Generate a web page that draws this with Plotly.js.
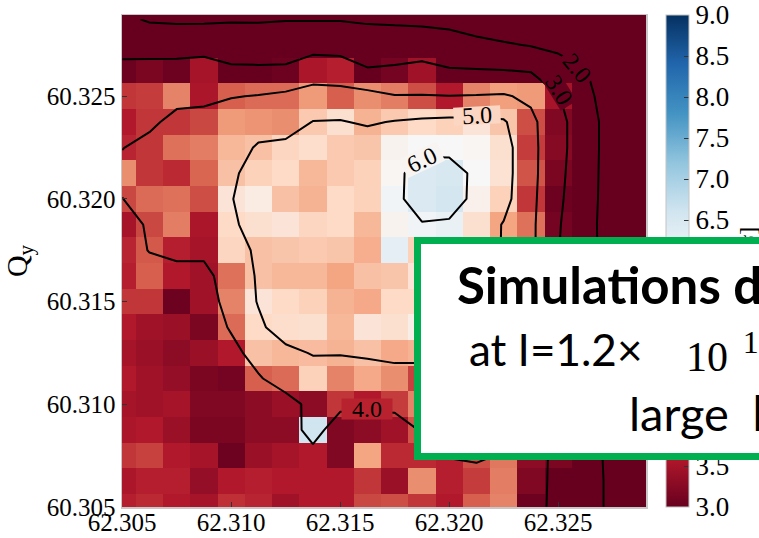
<!DOCTYPE html>
<html>
<head>
<meta charset="utf-8">
<script src="https://cdn.plot.ly/plotly-3.0.1.min.js"></script>
<style>
  html, body { margin: 0; padding: 0; background: #ffffff; }
  #chart { width: 759px; height: 538px; }
</style>
</head>
<body>
<div id="chart"></div>
<script>
// Tune grid (cell centres)
const tuneQx = [62.305, 62.30625, 62.3075, 62.30875, 62.31, 62.31125, 62.3125, 62.31375, 62.315, 62.31625,
                62.3175, 62.31875, 62.32, 62.32125, 62.3225, 62.32375, 62.325, 62.32625, 62.3275, 62.32875];
const tuneQy = [60.305, 60.30625, 60.3075, 60.30875, 60.31, 60.31125, 60.3125, 60.31375, 60.315, 60.31625,
                60.3175, 60.31875, 60.32, 60.32125, 60.3225, 60.32375, 60.325, 60.32625, 60.3275, 60.32875];

// Dynamic aperture per tune cell (rows from Qy = 60.305 upwards)
const daCells = [
  [3.65, 3.75, 3.6, 3.5, 3.8, 3.7, 3.45, 3.6, 3.6, 4.0, 4.05, 3.85, 3.6, 4.2, 4.5, 3.05, 2.85, 2.5, 1.75, 1.0],
  [3.55, 3.65, 3.65, 3.35, 3.6, 3.65, 3.6, 3.6, 3.6, 3.85, 3.4, 4.6, 3.65, 3.9, 4.45, 3.2, 2.9, 2.5, 1.75, 1.0],
  [3.85, 3.95, 3.6, 3.5, 3.05, 3.4, 3.5, 3.6, 3.2, 4.8, 3.75, 3.75, 3.65, 4.05, 4.4, 3.3, 3.15, 2.5, 1.7, 1.0],
  [3.55, 3.6, 3.4, 3.15, 3.15, 3.3, 3.3, 6.6, 3.2, 3.3, 3.45, 4.1, 4.3, 4.4, 4.3, 4.1, 2.85, 2.5, 1.65, 1.0],
  [3.5, 3.45, 3.5, 3.2, 3.2, 3.3, 3.4, 3.3, 3.85, 3.6, 3.9, 4.5, 4.5, 4.5, 4.4, 4.1, 2.85, 2.5, 1.6, 1.0],
  [3.6, 3.45, 3.35, 3.15, 3.1, 4.2, 4.3, 5.3, 4.5, 4.85, 4.6, 3.95, 4.75, 4.6, 4.5, 4.15, 2.85, 2.5, 1.55, 1.0],
  [3.5, 3.4, 3.3, 3.4, 3.6, 5.1, 5.0, 5.05, 4.95, 5.1, 4.85, 4.95, 5.2, 5.05, 4.6, 4.15, 2.9, 2.5, 1.5, 1.0],
  [3.6, 3.45, 3.4, 3.15, 4.3, 5.4, 5.45, 5.5, 5.0, 5.6, 5.5, 5.8, 5.3, 5.15, 4.7, 4.15, 2.9, 2.5, 1.5, 1.0],
  [3.85, 3.85, 3.05, 3.45, 4.5, 5.6, 5.4, 5.3, 4.95, 4.85, 5.4, 5.4, 5.4, 5.2, 4.8, 4.2, 2.95, 2.5, 1.4, 1.0],
  [3.65, 4.2, 3.6, 3.45, 4.35, 5.1, 5.0, 5.0, 4.8, 5.1, 5.15, 5.6, 5.5, 5.3, 4.9, 4.2, 2.95, 2.5, 1.35, 1.0],
  [3.7, 4.15, 3.65, 3.5, 5.35, 5.1, 5.15, 5.2, 5.15, 4.9, 6.3, 5.3, 5.6, 5.4, 4.95, 4.0, 3.0, 2.55, 1.3, 1.0],
  [3.5, 4.0, 4.45, 3.55, 5.4, 5.5, 5.6, 5.35, 5.4, 5.0, 5.9, 6.1, 6.2, 5.5, 4.8, 4.35, 3.1, 2.55, 1.25, 1.0],
  [4.0, 4.3, 4.35, 4.05, 5.6, 5.75, 5.1, 4.95, 5.4, 5.3, 6.1, 6.45, 6.55, 5.85, 5.3, 3.85, 3.05, 2.6, 1.3, 1.0],
  [4.6, 3.85, 3.75, 4.25, 5.1, 5.3, 5.4, 5.0, 5.2, 5.3, 5.95, 6.45, 6.5, 6.0, 5.55, 4.1, 3.15, 2.6, 1.35, 1.05],
  [3.7, 3.85, 4.35, 4.45, 5.0, 5.1, 5.35, 5.45, 5.2, 5.15, 5.9, 6.0, 6.0, 5.95, 5.5, 3.9, 3.25, 2.6, 1.4, 1.1],
  [3.6, 3.85, 3.85, 4.0, 4.7, 4.65, 4.6, 5.2, 5.5, 4.95, 5.2, 5.4, 5.3, 5.6, 5.15, 4.05, 3.2, 2.6, 1.4, 1.15],
  [3.85, 3.9, 4.5, 3.55, 4.2, 4.3, 4.3, 4.7, 4.2, 4.6, 4.45, 4.05, 3.6, 4.5, 4.75, 4.7, 3.5, 2.3, 1.4, 1.2],
  [3.05, 3.15, 3.05, 3.5, 2.95, 2.95, 3.05, 3.55, 3.65, 3.0, 3.1, 3.45, 2.95, 2.95, 2.95, 2.9, 2.4, 2.05, 1.3, 1.1],
  [2.75, 2.7, 2.65, 2.7, 2.7, 2.65, 2.7, 2.75, 2.7, 2.65, 2.65, 2.65, 2.6, 2.3, 2.1, 1.95, 1.8, 1.5, 1.1, 1.0],
  [2.2, 1.9, 1.85, 1.85, 1.9, 1.9, 1.95, 1.95, 1.95, 1.85, 1.8, 1.75, 1.6, 1.4, 1.3, 1.2, 1.1, 1.0, 1.0, 1.0]
];

// Averaged dynamic aperture used for the iso-lines
const daLevels = [
  [3.65, 3.75, 3.6, 3.5, 3.8, 3.7, 3.45, 3.6, 3.6, 3.8, 3.8, 3.7, 3.6, 3.7, 3.7, 3.2, 2.85, 2.5, 1.75, 1.0],
  [3.55, 3.65, 3.65, 3.35, 3.6, 3.65, 3.6, 3.6, 3.6, 3.8, 3.4, 3.7, 3.6, 3.5, 3.6, 3.3, 2.8, 2.5, 1.75, 1.0],
  [3.85, 3.9, 3.6, 3.5, 3.1, 3.4, 3.5, 3.6, 3.3, 3.7, 3.7, 3.6, 4.05, 4.2, 3.9, 3.5, 2.7, 2.5, 1.7, 1.0],
  [3.55, 3.6, 3.4, 3.2, 3.2, 3.3, 3.3, 4.5, 3.3, 3.3, 3.4, 4.1, 4.3, 4.4, 4.3, 4.1, 2.85, 2.5, 1.65, 1.0],
  [3.5, 3.45, 3.5, 3.2, 3.2, 3.3, 3.6, 4.3, 4.3, 4.3, 4.3, 4.5, 4.5, 4.5, 4.4, 4.1, 2.85, 2.5, 1.6, 1.0],
  [3.6, 3.45, 3.35, 3.15, 3.1, 3.9, 4.5, 4.6, 4.5, 4.5, 4.7, 4.7, 4.75, 4.6, 4.5, 4.15, 2.85, 2.5, 1.55, 1.0],
  [3.5, 3.4, 3.3, 3.4, 3.7, 4.4, 4.8, 5.05, 5.05, 5.15, 5.2, 5.2, 5.2, 5.05, 4.6, 4.15, 2.9, 2.5, 1.5, 1.0],
  [3.6, 3.5, 3.4, 3.4, 4.1, 4.85, 5.4, 5.5, 5.5, 5.5, 5.4, 5.3, 5.3, 5.15, 4.7, 4.15, 2.9, 2.5, 1.5, 1.0],
  [3.7, 3.8, 3.3, 3.5, 4.4, 5.05, 5.5, 5.6, 5.5, 5.4, 5.6, 5.4, 5.4, 5.2, 4.8, 4.2, 2.95, 2.5, 1.4, 1.0],
  [3.6, 3.5, 3.6, 3.6, 4.7, 5.05, 5.6, 5.4, 5.5, 5.4, 5.5, 5.5, 5.5, 5.3, 4.9, 4.2, 2.95, 2.5, 1.35, 1.0],
  [3.4, 4.05, 4.3, 4.3, 4.5, 5.2, 5.4, 5.5, 5.5, 5.6, 5.6, 5.7, 5.6, 5.4, 4.95, 4.2, 3.02, 2.55, 1.3, 1.0],
  [3.5, 4.15, 4.4, 4.5, 4.8, 5.5, 5.6, 5.7, 5.5, 5.6, 5.6, 5.95, 5.9, 5.5, 4.95, 4.2, 3.05, 2.55, 1.25, 1.0],
  [3.98, 4.5, 4.3, 4.6, 4.95, 5.6, 5.7, 5.4, 5.5, 5.7, 5.8, 6.4, 6.35, 5.8, 5.3, 4.25, 3.1, 2.6, 1.3, 1.0],
  [4.3, 4.4, 4.4, 4.5, 4.8, 5.5, 5.6, 5.4, 5.5, 5.6, 5.8, 6.35, 6.4, 5.8, 5.35, 4.3, 3.15, 2.6, 1.35, 1.05],
  [3.97, 4.3, 4.5, 4.5, 4.6, 5.1, 5.2, 5.4, 5.6, 5.5, 5.7, 5.8, 5.75, 5.6, 5.35, 4.3, 3.2, 2.6, 1.4, 1.1],
  [3.6, 3.8, 4.3, 4.6, 4.6, 4.6, 4.6, 5.02, 5.05, 4.9, 5.05, 5.15, 5.2, 5.2, 5.1, 4.25, 3.2, 2.6, 1.4, 1.15],
  [3.7, 3.6, 3.7, 3.6, 3.95, 4.05, 4.2, 4.5, 4.4, 4.3, 4.05, 4.05, 4.02, 4.05, 4.1, 3.8, 3.05, 2.3, 1.4, 1.2],
  [3.2, 3.25, 3.3, 3.35, 3.1, 3.1, 3.1, 3.4, 3.4, 3.05, 3.1, 3.2, 3.05, 3.05, 3.02, 2.95, 2.4, 2.05, 1.3, 1.1],
  [2.75, 2.7, 2.65, 2.7, 2.7, 2.65, 2.7, 2.75, 2.7, 2.65, 2.65, 2.65, 2.6, 2.3, 2.1, 1.95, 1.8, 1.5, 1.1, 1.0],
  [2.2, 1.9, 1.85, 1.85, 1.9, 1.9, 1.95, 1.95, 1.95, 1.85, 1.8, 1.75, 1.6, 1.4, 1.3, 1.2, 1.1, 1.0, 1.0, 1.0]
];

const isoStart = 2, isoEnd = 6, isoStep = 1;
const qxTicks = [62.305, 62.31, 62.315, 62.32, 62.325];
const qxTickText = ['62.305', '62.310', '62.315', '62.320', '62.325'];
const qyTicks = [60.305, 60.31, 60.315, 60.32, 60.325];
const qyTickText = ['60.305', '60.310', '60.315', '60.320', '60.325'];
const cbTicks = [3.0, 3.5, 4.0, 4.5, 5.0, 5.5, 6.0, 6.5, 7.0, 7.5, 8.0, 8.5, 9.0];
const cbTickText = ['3.0', '3.5', '4.0', '4.5', '5.0', '5.5', '6.0', '6.5', '7.0', '7.5', '8.0', '8.5', '9.0'];

// Red-white-blue diverging map
const rdBu = [
  [0.0, '#67001f'], [0.1, '#b2182b'], [0.2, '#d6604d'], [0.3, '#f4a582'], [0.4, '#fddbc7'],
  [0.5, '#f7f7f7'], [0.6, '#d1e5f0'], [0.7, '#92c5de'], [0.8, '#4393c3'], [0.9, '#2166ac'], [1.0, '#053061']
];

const serif = 'Liberation Serif, Times New Roman, serif';
const sans = 'Lato, Open Sans, sans-serif';

const heat = {
  type: 'heatmap',
  x: tuneQx, y: tuneQy, z: daCells,
  zmin: 3, zmax: 9, zsmooth: false,
  colorscale: rdBu,
  hoverinfo: 'skip',
  colorbar: {
    x: 1.038, xanchor: 'left', xpad: 0,
    y: 0.5, yanchor: 'middle', ypad: 0,
    len: 1, lenmode: 'fraction', thickness: 23,
    outlinewidth: 1, outlinecolor: '#c4c4c4',
    tickmode: 'array', tickvals: cbTicks, ticktext: cbTickText,
    ticks: 'inside', ticklen: 5, tickcolor: '#333333',
    tickfont: { family: serif, size: 27, color: '#000000' }
  }
};

const iso = {
  type: 'contour',
  x: tuneQx, y: tuneQy, z: daLevels,
  showscale: false, hoverinfo: 'skip',
  contours: { coloring: 'none', start: isoStart, end: isoEnd, size: isoStep, showlabels: false },
  line: { color: '#000000', width: 2, smoothing: 0 }
};

const W = 524, H = 492, L = 122, T = 15;
const px = v => (v - L) / W;
const py = v => (T + H - v) / H;

// level labels, each sitting in a gap cut into its own line
function levelLabel(level, cx, cy, angle, gap, w, h) {
  return {
    xref: 'paper', yref: 'paper', x: px(cx), y: py(cy), xanchor: 'center', yanchor: 'middle',
    text: level.toFixed(1), textangle: angle, showarrow: false,
    bgcolor: gap, borderpad: 0, width: w, height: h,
    font: { family: serif, size: 24, color: '#000000' }
  };
}

const layout = {
  width: 759, height: 538,
  margin: { l: 122, r: 113, t: 15, b: 31 },
  paper_bgcolor: '#ffffff', plot_bgcolor: '#ffffff',
  font: { family: serif, color: '#000000' },
  showlegend: false,
  xaxis: {
    range: [62.30499, 62.32903], tickmode: 'array', tickvals: qxTicks, ticktext: qxTickText,
    ticks: 'inside', ticklen: 5, tickcolor: '#333333', ticklabelstandoff: -8,
    tickfont: { family: serif, size: 25 },
    showline: true, linecolor: '#c8c8c8', linewidth: 1.5, mirror: true,
    showgrid: false, zeroline: false
  },
  yaxis: {
    range: [60.30499, 60.32896], tickmode: 'array', tickvals: qyTicks, ticktext: qyTickText,
    ticks: 'inside', ticklen: 5, tickcolor: '#333333',
    tickfont: { family: serif, size: 25 },
    showline: true, linecolor: '#c8c8c8', linewidth: 1.5, mirror: true,
    showgrid: false, zeroline: false,
    title: { text: 'Q<sub>y</sub>', font: { family: serif, size: 30 }, standoff: 12 }
  },
  annotations: [
    levelLabel(2, 577, 68, 50, '#67001f', 36, 20),
    levelLabel(3, 559, 90, 58, '#67001f', 36, 18),
    levelLabel(4, 367, 409, 0, '#b8222f', 50, 20),
    levelLabel(5, 477, 115, -3, '#fbd6c3', 46, 17),
    levelLabel(6, 422, 160, -25, '#f7f4f2', 40, 20),
    { // colour-bar label
      xref: 'paper', yref: 'paper', x: px(748), y: py(261), xanchor: 'center', yanchor: 'middle',
      text: 'DA [σ]', textangle: -90, showarrow: false,
      font: { family: serif, size: 24, color: '#000000' }
    },
    { // call-out box
      xref: 'paper', yref: 'paper', x: px(414), y: py(237), xanchor: 'left', yanchor: 'top',
      text: ' ', showarrow: false, width: 600, height: 209,
      bgcolor: '#ffffff', bordercolor: '#00b050', borderwidth: 7, borderpad: 0
    },
    {
      xref: 'paper', yref: 'paper', x: px(455), y: py(284), xanchor: 'left', yanchor: 'middle',
      text: '<b>Simulations d</b>', showarrow: false,
      font: { family: sans, size: 51, color: '#000000' }
    },
    {
      xref: 'paper', yref: 'paper', x: px(467), y: py(349), xanchor: 'left', yanchor: 'middle',
      text: 'at I=1.2×', showarrow: false,
      font: { family: sans, size: 44, color: '#000000' }
    },
    {
      xref: 'paper', yref: 'paper', x: px(684), y: py(352), xanchor: 'left', yanchor: 'middle',
      text: '10<sup>\u00a0\u00a0<span style="font-size:32px">1</span></sup>', showarrow: false,
      font: { family: serif, size: 42, color: '#000000' }
    },
    {
      xref: 'paper', yref: 'paper', x: px(627), y: py(413), xanchor: 'left', yanchor: 'middle',
      text: 'large\u00a0\u00a0<b>h</b>', showarrow: false,
      font: { family: sans, size: 47, color: '#000000' }
    }
  ]
};

Plotly.newPlot('chart', [heat, iso], layout, { staticPlot: true, displayModeBar: false });
</script>
</body>
</html>
